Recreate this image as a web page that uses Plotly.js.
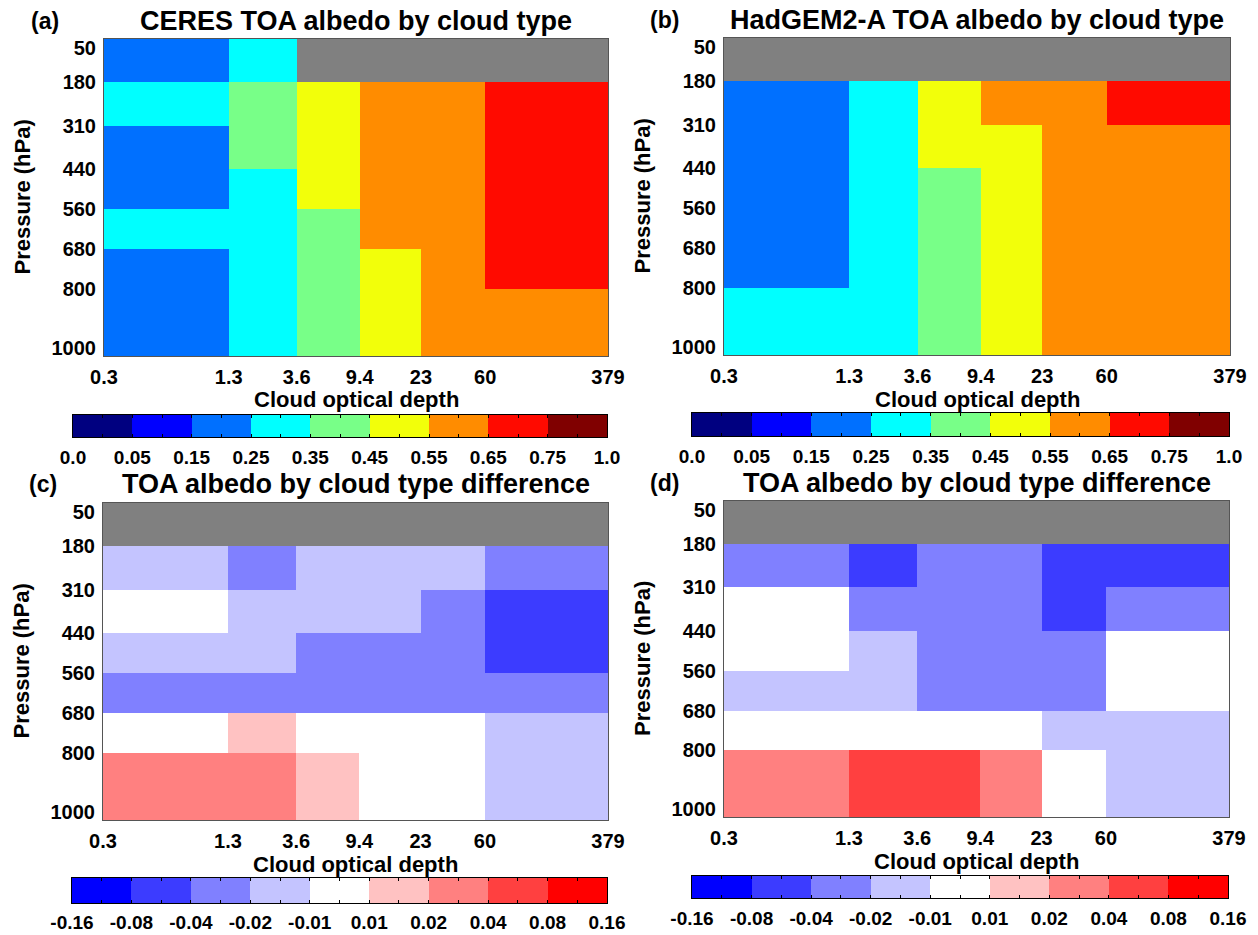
<!DOCTYPE html>
<html>
<head>
<meta charset="utf-8">
<script src="https://cdn.plot.ly/plotly-3.0.1.min.js"></script>
<style>html,body{margin:0;padding:0;background:#fff;}#chart{width:1258px;height:935px;}</style>
</head>
<body>
<div id="chart"></div>
<script>
// ---------------- data ----------------
const tauLabels = ["0.3", "1.3", "3.6", "9.4", "23", "60", "379"];
const pressureEdges = [50, 180, 310, 440, 560, 680, 800, 1000];

const albedoLevels = [0.0, 0.05, 0.15, 0.25, 0.35, 0.45, 0.55, 0.65, 0.75, 1.0];
const albedoLevelLabels = ["0.0", "0.05", "0.15", "0.25", "0.35", "0.45", "0.55", "0.65", "0.75", "1.0"];
const diffLevels = [-0.16, -0.08, -0.04, -0.02, -0.01, 0.01, 0.02, 0.04, 0.08, 0.16];
const diffLevelLabels = ["-0.16", "-0.08", "-0.04", "-0.02", "-0.01", "0.01", "0.02", "0.04", "0.08", "0.16"];

// rows: 50-180, 180-310, 310-440, 440-560, 560-680, 680-800, 800-1000 hPa
// cols: 0.3-1.3, 1.3-3.6, 3.6-9.4, 9.4-23, 23-60, 60-379
const ceresAlbedo = [
  [0.21, 0.29, null, null, null, null],
  [0.30, 0.40, 0.50, 0.60, 0.62, 0.70],
  [0.22, 0.38, 0.52, 0.61, 0.63, 0.71],
  [0.21, 0.33, 0.51, 0.59, 0.62, 0.70],
  [0.27, 0.32, 0.43, 0.57, 0.61, 0.69],
  [0.20, 0.30, 0.41, 0.52, 0.59, 0.67],
  [0.19, 0.29, 0.40, 0.50, 0.58, 0.64]
];
const hadgemAlbedo = [
  [null, null, null, null, null, null],
  [0.22, 0.31, 0.51, 0.61, 0.64, 0.68],
  [0.21, 0.30, 0.50, 0.53, 0.61, 0.64],
  [0.20, 0.29, 0.44, 0.52, 0.60, 0.63],
  [0.19, 0.28, 0.42, 0.51, 0.59, 0.63],
  [0.18, 0.27, 0.41, 0.50, 0.58, 0.62],
  [0.26, 0.30, 0.40, 0.49, 0.57, 0.61]
];
const diffC = [
  [null, null, null, null, null, null],
  [-0.015, -0.030, -0.012, -0.014, -0.016, -0.028],
  [0.002, -0.013, -0.015, -0.018, -0.025, -0.050],
  [-0.012, -0.016, -0.024, -0.027, -0.030, -0.045],
  [-0.022, -0.025, -0.028, -0.030, -0.032, -0.035],
  [0.005, 0.012, 0.004, -0.003, 0.001, -0.013],
  [0.025, 0.022, 0.015, 0.006, -0.004, -0.012]
];
const diffD = [
  [null, null, null, null, null, null],
  [-0.030, -0.050, -0.025, -0.028, -0.045, -0.050],
  [0.003, -0.026, -0.030, -0.028, -0.042, -0.030],
  [0.004, -0.015, -0.024, -0.026, -0.022, 0.002],
  [-0.013, -0.012, -0.023, -0.025, -0.021, 0.001],
  [0.002, 0.005, 0.003, -0.002, -0.015, -0.014],
  [0.028, 0.050, 0.045, 0.030, 0.002, -0.012]
];

// ---------------- styles / layout ----------------
const albedoColors = ["#000080", "#0000ff", "#0070ff", "#00ffff", "#78ff88", "#f2ff0a", "#ff8c00", "#ff0a00", "#800000"];
const diffColors = ["#0000ff", "#3c3cff", "#8080ff", "#c4c4ff", "#ffffff", "#ffc2c2", "#ff8080", "#ff4040", "#ff0000"];
const xCellPos = [0, 1.98, 3.06, 4.06, 5.03, 6.05, 8];   // display positions of optical-depth bin edges

const W = 1258, H = 935;
const FONT = "Liberation Sans, Arial, sans-serif";
const px = (a, b) => [a / W, b / W];
const py = (top, bottom) => [1 - bottom / H, 1 - top / H];

function binIndex(v, levels) {
  if (v === null) return null;
  let k = 0;
  for (let i = 0; i < levels.length - 1; i++) if (v >= levels[i]) k = i;
  return k + 0.5;
}
function discreteScale(colors) {
  const n = colors.length, cs = [];
  colors.forEach((c, k) => { cs.push([k / n, c]); cs.push([(k + 1) / n, c]); });
  return cs;
}

const panels = [
  {z: ceresAlbedo, levels: albedoLevels, labels: albedoLevelLabels, colors: albedoColors,
   title: "CERES TOA albedo by cloud type", letter: "(a)",
   plotX: [104, 608], plotY: [39, 356], cbX: [73, 607], cbY: [415, 437], titleY: 21, letterX: 45, cbStand: 3},
  {z: hadgemAlbedo, levels: albedoLevels, labels: albedoLevelLabels, colors: albedoColors,
   title: "HadGEM2-A TOA albedo by cloud type", letter: "(b)",
   plotX: [724, 1230], plotY: [38, 355], cbX: [692, 1229], cbY: [413, 436], titleY: 20, letterX: 664, cbStand: 3},
  {z: diffC, levels: diffLevels, labels: diffLevelLabels, colors: diffColors,
   title: "TOA albedo by cloud type difference", letter: "(c)",
   plotX: [103, 608], plotY: [503, 820], cbX: [72, 607], cbY: [878, 903], titleY: 484, letterX: 43, cbStand: 2},
  {z: diffD, levels: diffLevels, labels: diffLevelLabels, colors: diffColors,
   title: "TOA albedo by cloud type difference", letter: "(d)",
   plotX: [724, 1229], plotY: [501, 817], cbX: [692, 1228], cbY: [876, 898], titleY: 483, letterX: 664, cbStand: 3}
];

const traces = [];
const layout = {
  width: W, height: H, autosize: false,
  margin: {l: 0, r: 0, t: 0, b: 0},
  paper_bgcolor: "#ffffff", plot_bgcolor: "#808080",
  showlegend: false, annotations: []
};

const nP = pressureEdges.length - 1;
const yTickPos = pressureEdges.map((p, i) => i === 0 ? p + 27 : (i === nP ? p - 24 : p));
const tickFont = {family: FONT, size: 20, color: "#000", weight: "bold"};
const cbFont = {family: FONT, size: 19, color: "#000", weight: "bold"};

panels.forEach((p, i) => {
  const ax = i + 1, cb = i + 5;
  const xa = ax === 1 ? "x" : "x" + ax, ya = ax === 1 ? "y" : "y" + ax;
  const n = p.colors.length;
  traces.push({
    type: "heatmap", xaxis: xa, yaxis: ya,
    x: xCellPos, y: pressureEdges,
    z: p.z.map(r => r.map(v => binIndex(v, p.levels))),
    zmin: 0, zmax: n, colorscale: discreteScale(p.colors),
    showscale: false, zsmooth: false, hoverinfo: "skip"
  });
  const idx = [];
  for (let k = 0; k < n; k++) idx.push(k + 0.5);
  traces.push({
    type: "heatmap", xaxis: "x" + cb, yaxis: "y" + cb,
    x: p.labels.map((_, k) => k), y: [0, 1], z: [idx],
    zmin: 0, zmax: n, colorscale: discreteScale(p.colors),
    showscale: false, zsmooth: false, hoverinfo: "skip"
  });

  layout[ax === 1 ? "xaxis" : "xaxis" + ax] = {
    domain: px(p.plotX[0], p.plotX[1]), anchor: ya, range: [xCellPos[0], xCellPos[xCellPos.length - 1]],
    tickmode: "array", tickvals: xCellPos, ticktext: tauLabels, ticks: "", tickfont: tickFont,
    ticklabelstandoff: 3,
    showgrid: false, zeroline: false, showline: true, mirror: true, linecolor: "#555", linewidth: 1
  };
  layout[ax === 1 ? "yaxis" : "yaxis" + ax] = {
    domain: py(p.plotY[0], p.plotY[1]), anchor: xa, range: [pressureEdges[nP], pressureEdges[0]],
    tickmode: "array", tickvals: yTickPos, ticktext: pressureEdges.map(String), ticks: "", tickfont: tickFont,
    ticklabelstandoff: 3,
    showgrid: false, zeroline: false, showline: true, mirror: true, linecolor: "#555", linewidth: 1
  };
  layout["xaxis" + cb] = {
    domain: px(p.cbX[0], p.cbX[1]), anchor: "y" + cb, range: [0, n],
    tickmode: "array", tickvals: p.labels.map((_, k) => k), ticktext: p.labels,
    ticks: "inside", ticklen: 3, tickcolor: "#000", tickwidth: 1,
    minor: {tickmode: "linear", tick0: 0.5, dtick: 1, ticks: "inside", ticklen: 3, tickcolor: "#000", showgrid: false},
    tickfont: cbFont, ticklabelstandoff: p.cbStand,
    showgrid: false, zeroline: false, showline: true, mirror: "ticks", linecolor: "#000", linewidth: 1
  };
  layout["yaxis" + cb] = {
    domain: py(p.cbY[0], p.cbY[1]), anchor: "x" + cb, range: [0, 1],
    showticklabels: false, ticks: "", showgrid: false, zeroline: false,
    showline: true, mirror: true, linecolor: "#000", linewidth: 1
  };

  const cx = (p.plotX[0] + p.plotX[1]) / 2, cy = (p.plotY[0] + p.plotY[1]) / 2;
  const ann = (text, x, y, size, extra) => Object.assign({
    text: text, xref: "paper", yref: "paper", x: x / W, y: 1 - y / H,
    xanchor: "center", yanchor: "middle", showarrow: false,
    font: {family: FONT, size: size, color: "#000", weight: "bold"}
  }, extra || {});
  layout.annotations.push(ann(p.title, cx, p.titleY, 27));
  layout.annotations.push(ann(p.letter, p.letterX, p.titleY, 23));
  layout.annotations.push(ann("Cloud optical depth", cx, p.plotY[1] + 44, 22));
  layout.annotations.push(ann("Pressure (hPa)", p.plotX[0] - 82, cy, 22, {textangle: -90}));
});

Plotly.newPlot("chart", traces, layout, {staticPlot: true, displayModeBar: false});
</script>
</body>
</html>
